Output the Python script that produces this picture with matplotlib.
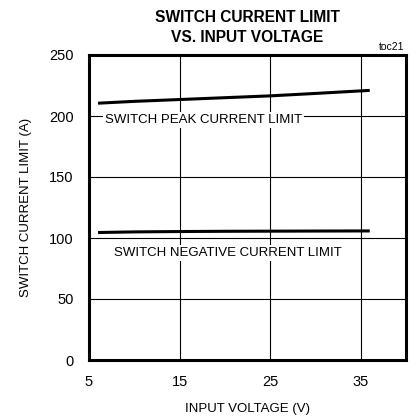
import matplotlib
matplotlib.use("Agg")
import matplotlib.pyplot as plt

plt.rcParams['font.family'] = ['Liberation Sans', 'DejaVu Sans']

# Data
voltage = [6, 10, 15, 20, 25, 30, 36]
peak_limit = [210.5, 212, 213.5, 215, 216.5, 218.5, 221]
neg_limit = [104.5, 105, 105.3, 105.5, 105.6, 105.7, 105.8]
xticks = [5, 15, 25, 35]
yticks = [0, 50, 100, 150, 200, 250]

fig = plt.figure(figsize=(4.11, 4.19), dpi=100)
ax = fig.add_axes([89/411, 1-360/419, (406-89)/411, (360-55)/419])

ax.plot(voltage, peak_limit, color='black', lw=2.2, solid_capstyle='butt')
ax.plot(voltage, neg_limit, color='black', lw=2.2, solid_capstyle='butt')

ax.set_xlim(5, 40)
ax.set_ylim(0, 250)
ax.set_xticks(xticks)
ax.set_yticks(yticks)
ax.grid(True, color='black', lw=0.8)
ax.set_axisbelow(True)
for s in ax.spines.values():
    s.set_linewidth(2.2)
ax.tick_params(length=0, labelsize=10.5, pad=11)

ax.text(6.76, 197, 'SWITCH PEAK CURRENT LIMIT', fontsize=9.5, va='center', ha='left',
        bbox=dict(facecolor='white', edgecolor='none', pad=1.5))
ax.text(7.76, 88, 'SWITCH NEGATIVE CURRENT LIMIT', fontsize=9.5, va='center', ha='left',
        bbox=dict(facecolor='white', edgecolor='none', pad=1.5))

ax.set_xlabel('INPUT VOLTAGE (V)', fontsize=9.5, labelpad=10)
ax.set_ylabel('SWITCH CURRENT LIMIT (A)', fontsize=9.5, labelpad=12)

fig.text(247/411, 1-17/419, 'SWITCH CURRENT LIMIT', fontsize=11.2, fontweight='bold', ha='center', va='center')
fig.text(247/411, 1-37/419, 'VS. INPUT VOLTAGE', fontsize=11.2, fontweight='bold', ha='center', va='center')
fig.text(404/411, 1-47/419, 'toc21', fontsize=7.5, ha='right', va='center')

fig.savefig('out.png', dpi=100)
